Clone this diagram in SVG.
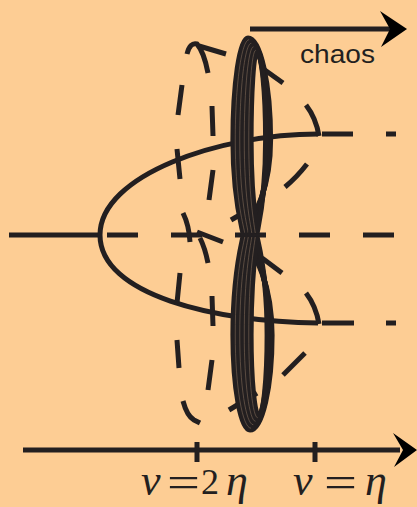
<svg xmlns="http://www.w3.org/2000/svg" width="417" height="507" viewBox="0 0 417 507">
<style>
.ln{fill:none;stroke:#231f20;stroke-width:5}
.d{fill:none;stroke:#231f20;stroke-width:5;stroke-linecap:butt}
.r{fill:none;stroke:#231f20;stroke-width:5.2}
.lt{fill:none;stroke:#806a58;stroke-width:0.6}
.ah{fill:#000}
.m{font-family:"Liberation Serif",serif;fill:#231f20}
.i{font-style:italic}
</style>
<rect width="417" height="507" fill="#fdcd94"/>
<g id="connectors">
<path class="ln" d="M250,29H392"/>
<path class="ah" d="M407,29L380,11L390,29L381,47Z"/>
<path class="ln" d="M23,450H400"/>
<path class="ah" d="M417,450L393,433L403,450L394,467Z"/>
<path class="ln" d="M197,442V462M315,442V462"/>
<path class="ln" d="M9,235H101"/>
<path class="ln" d="M107,235H395" stroke-dasharray="31 33"/>
<path class="ln" d="M318,134C220,134 100,175 100,235C100,295 215,322 318,323"/>
<path class="ln" d="M322,134H353M386,134H396M322,323H354M386,323H396"/>
</g>
<g id="dashed-orbits">
<path class="d" d="M187,54Q190,42 197,44Q204,52 208,73"/>
<path class="d" d="M199,46L226,54"/>
<path class="d" d="M182,85L178,115M212,106L213,136M177,149L180,179M213,170L209,200"/>
<path class="d" d="M183,213Q189,225 190,242"/>
<path class="d" d="M197,232L223,242M200,238Q205,248 208,263"/>
<path class="d" d="M180,273L177,303M212,296L213,326M177,340L179,368M212,360L208,390"/>
<path class="d" d="M183,401Q187,416 194,420L200,423"/>
<path class="d" d="M262,68L283,83"/>
<path class="d" d="M306,105Q316,118 319,136"/>
<path class="d" d="M307,164Q297,177 285,187"/>
<path class="d" d="M257,205L231,220"/>
<path class="d" d="M262,258L282,273"/>
<path class="d" d="M306,293Q316,306 319,324"/>
<path class="d" d="M305,353L283,375"/>
<path class="d" d="M257,393L229,410"/>
</g>
<g id="ring-upper">
<path class="r" d="M248,38C239.75,38 233,84 233,140C233,196 240.5,221 243,233C249.9,221 270.5,196 270.5,140C270.5,84 260.4,38 248,38Z"/>
<path class="r" d="M250.2,41.5C243.2,41.5 237.5,85.8 237.5,140C237.5,196 244.25,221 246.5,233C252.2,221 269.3,196 269.3,140C269.3,85.8 260.7,41.5 250.2,41.5Z"/>
<path class="r" d="M252.4,45C246.7,45 242,87.7 242,140C242,196 248,221 250,233C254.5,221 268.1,196 268.1,140C268.1,87.7 261,45 252.4,45Z"/>
<path class="r" d="M254.6,48.5C250.1,48.5 246.5,89.7 246.5,140C246.5,196 251.75,221 253.5,233C256.85,221 266.9,196 266.9,140C266.9,89.7 261.4,48.5 254.6,48.5Z"/>
<path class="r" d="M256.8,52C253.6,52 251,91.6 251,140C251,196 255.5,221 257,233C259.2,221 265.7,196 265.7,140C265.7,91.6 261.7,52 256.8,52Z"/>
<path class="lt" d="M249.1,39.75C241.5,39.75 235.25,84.9 235.25,140C235.25,196 242.4,221 244.75,233"/>
<path class="lt" d="M251.3,43.25C244.9,43.25 239.75,86.8 239.75,140C239.75,196 246.1,221 248.25,233"/>
<path class="lt" d="M253.5,46.75C248.4,46.75 244.25,88.7 244.25,140C244.25,196 249.9,221 251.75,233"/>
<path class="lt" d="M255.7,50.25C251.9,50.25 248.75,90.6 248.75,140C248.75,196 253.6,221 255.25,233"/>
</g>
<g id="ring-lower">
<path class="r" d="M243,237C240.5,249 233,276.2 233,335C233,387.3 240.65,430 250,430C262.1,430 272,387.3 272,335C272,276.2 250.25,249 243,237Z"/>
<path class="r" d="M246.5,237C244.25,249 237.5,276.2 237.5,335C237.5,385.3 244.1,426.5 252.2,426.5C262.4,426.5 270.8,385.3 270.8,335C270.8,276.2 252.6,249 246.5,237Z"/>
<path class="r" d="M250,237C248,249 242,276.2 242,335C242,383.4 247.6,423 254.4,423C262.8,423 269.6,383.4 269.6,335C269.6,276.2 254.9,249 250,237Z"/>
<path class="r" d="M253.5,237C251.75,249 246.5,276.2 246.5,335C246.5,381.5 251,419.5 256.6,419.5C263.1,419.5 268.4,381.5 268.4,335C268.4,276.2 257.2,249 253.5,237Z"/>
<path class="r" d="M257,237C255.5,249 251,276.2 251,335C251,379.6 254.5,416 258.8,416C263.4,416 267.2,379.6 267.2,335C267.2,276.2 259.55,249 257,237Z"/>
<path class="lt" d="M244.75,237C242.4,249 235.25,276.2 235.25,335C235.25,386.3 242.4,428.25 251.1,428.25"/>
<path class="lt" d="M248.25,237C246.1,249 239.75,276.2 239.75,335C239.75,384.4 245.8,424.75 253.3,424.75"/>
<path class="lt" d="M251.75,237C249.9,249 244.25,276.2 244.25,335C244.25,382.4 249.3,421.25 255.5,421.25"/>
<path class="lt" d="M255.25,237C253.6,249 248.75,276.2 248.75,335C248.75,380.5 252.8,417.75 257.7,417.75"/>
</g>
<g id="label-chaos">
<text x="300" y="63" font-family="Liberation Sans, Arial, sans-serif" font-size="26" fill="#231f20" textLength="75" lengthAdjust="spacingAndGlyphs">chaos</text>
</g>
<g id="label-nu2eta">
<text class="m i" x="141" y="495" font-size="44">ν</text>
<text class="m" x="167" y="497" font-size="44" textLength="33" lengthAdjust="spacingAndGlyphs">=</text>
<text class="m" x="201" y="494" font-size="36">2</text>
<text class="m i" x="226" y="495" font-size="44">η</text>
</g>
<g id="label-nueta">
<text class="m i" x="293" y="495" font-size="44">ν</text>
<text class="m" x="324" y="497" font-size="44" textLength="33" lengthAdjust="spacingAndGlyphs">=</text>
<text class="m i" x="365" y="495" font-size="44">η</text>
</g>
</svg>
